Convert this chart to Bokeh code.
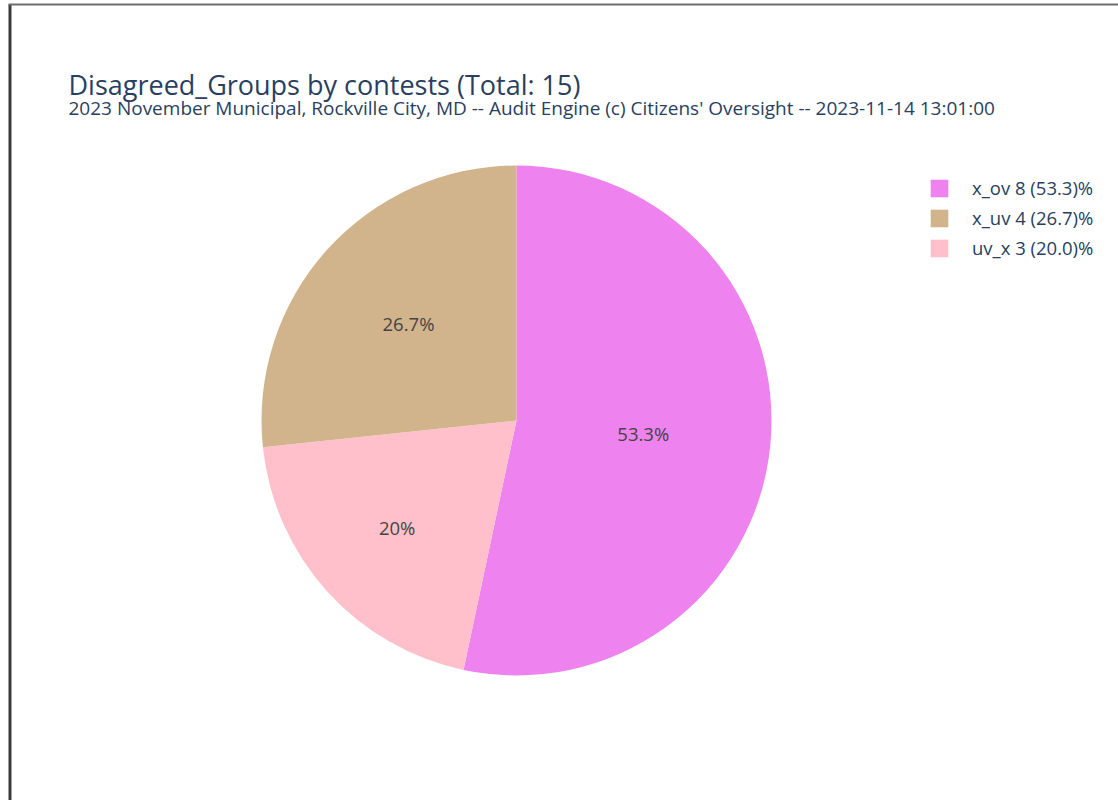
import math
from bokeh.plotting import figure
from bokeh.models import Range1d, Legend, LegendItem
from bokeh.core.properties import value
from bokeh.embed import file_html
from bokeh.resources import INLINE

# ---- data ----
labels = ["x_ov", "x_uv", "uv_x"]
counts = [8, 4, 3]
colors = ["#EE82EE", "#D2B48C", "#FFC0CB"]
draw_order = [0, 2, 1]  # clockwise from 12 o'clock as in the reference
title_text = "Disagreed_Groups by contests (Total: 15)"
subtitle_text = ("2023 November Municipal, Rockville City, MD -- Audit Engine (c) "
                 "Citizens' Oversight -- 2023-11-14 13:01:00")

# ---- layout / style ----
W, H = 1118, 800
CX, CY, R = 516, H - 420, 255
label_frac = {0: 0.50, 1: 0.57, 2: 0.63}
FONT = "Open Sans"
TXT = "#2a3f5f"

p = figure(width=W, height=H, x_range=Range1d(0, W), y_range=Range1d(0, H),
           output_backend="svg", toolbar_location=None, min_border=0)
p.axis.visible = False
p.grid.visible = False
p.outline_line_color = None
p.background_fill_color = "white"
p.border_fill_color = "white"

# frame borders like the screenshot
p.segment(x0=[9.5], y0=[H - 4], x1=[9.5], y1=[0], line_color="#3a3a3a", line_width=3)
p.segment(x0=[8], y0=[H - 4], x1=[W], y1=[H - 4], line_color="#6e6e6e", line_width=2)

total = sum(counts)
renderers = {}
cum = 0.0
lx, ly, lt = [], [], []
for i in draw_order:
    frac = counts[i] / total
    a0 = math.pi / 2 - 2 * math.pi * (cum + frac)
    a1 = math.pi / 2 - 2 * math.pi * cum
    r = p.wedge(x=[CX], y=[CY], radius=R, start_angle=[a0], end_angle=[a1],
                fill_color=colors[i], line_color=None)
    renderers[i] = r
    mid = (a0 + a1) / 2
    rf = label_frac[i] * R
    lx.append(CX + rf * math.cos(mid))
    ly.append(CY + rf * math.sin(mid))
    lt.append(f"{100 * frac:.3g}%")
    cum += frac

p.text(x=lx, y=ly, text=lt, text_font=value(FONT), text_font_size="18.5px",
       text_color="#444444", text_align="center", text_baseline="middle")

p.text(x=[68], y=[H - 84], text=[title_text], text_font=value(FONT),
       text_font_size="27px", text_color=TXT, text_baseline="alphabetic")
p.text(x=[68], y=[H - 107], text=[subtitle_text], text_font=value(FONT),
       text_font_size="19px", text_color=TXT, text_baseline="alphabetic")

items = [LegendItem(label=f"{labels[i]} {counts[i]} ({100 * counts[i] / total:.1f})%",
                    renderers=[renderers[i]]) for i in range(len(labels))]
legend = Legend(items=items, location=(928, H - 175 - 85), padding=0, margin=0,
                glyph_width=22, glyph_height=22, label_standoff=22, label_height=25,
                spacing=5, border_line_alpha=0, background_fill_alpha=0,
                label_text_font=FONT, label_text_font_size="18.5px", label_text_color=TXT)
p.add_layout(legend)

open("out.html", "w").write(file_html(p, INLINE))
